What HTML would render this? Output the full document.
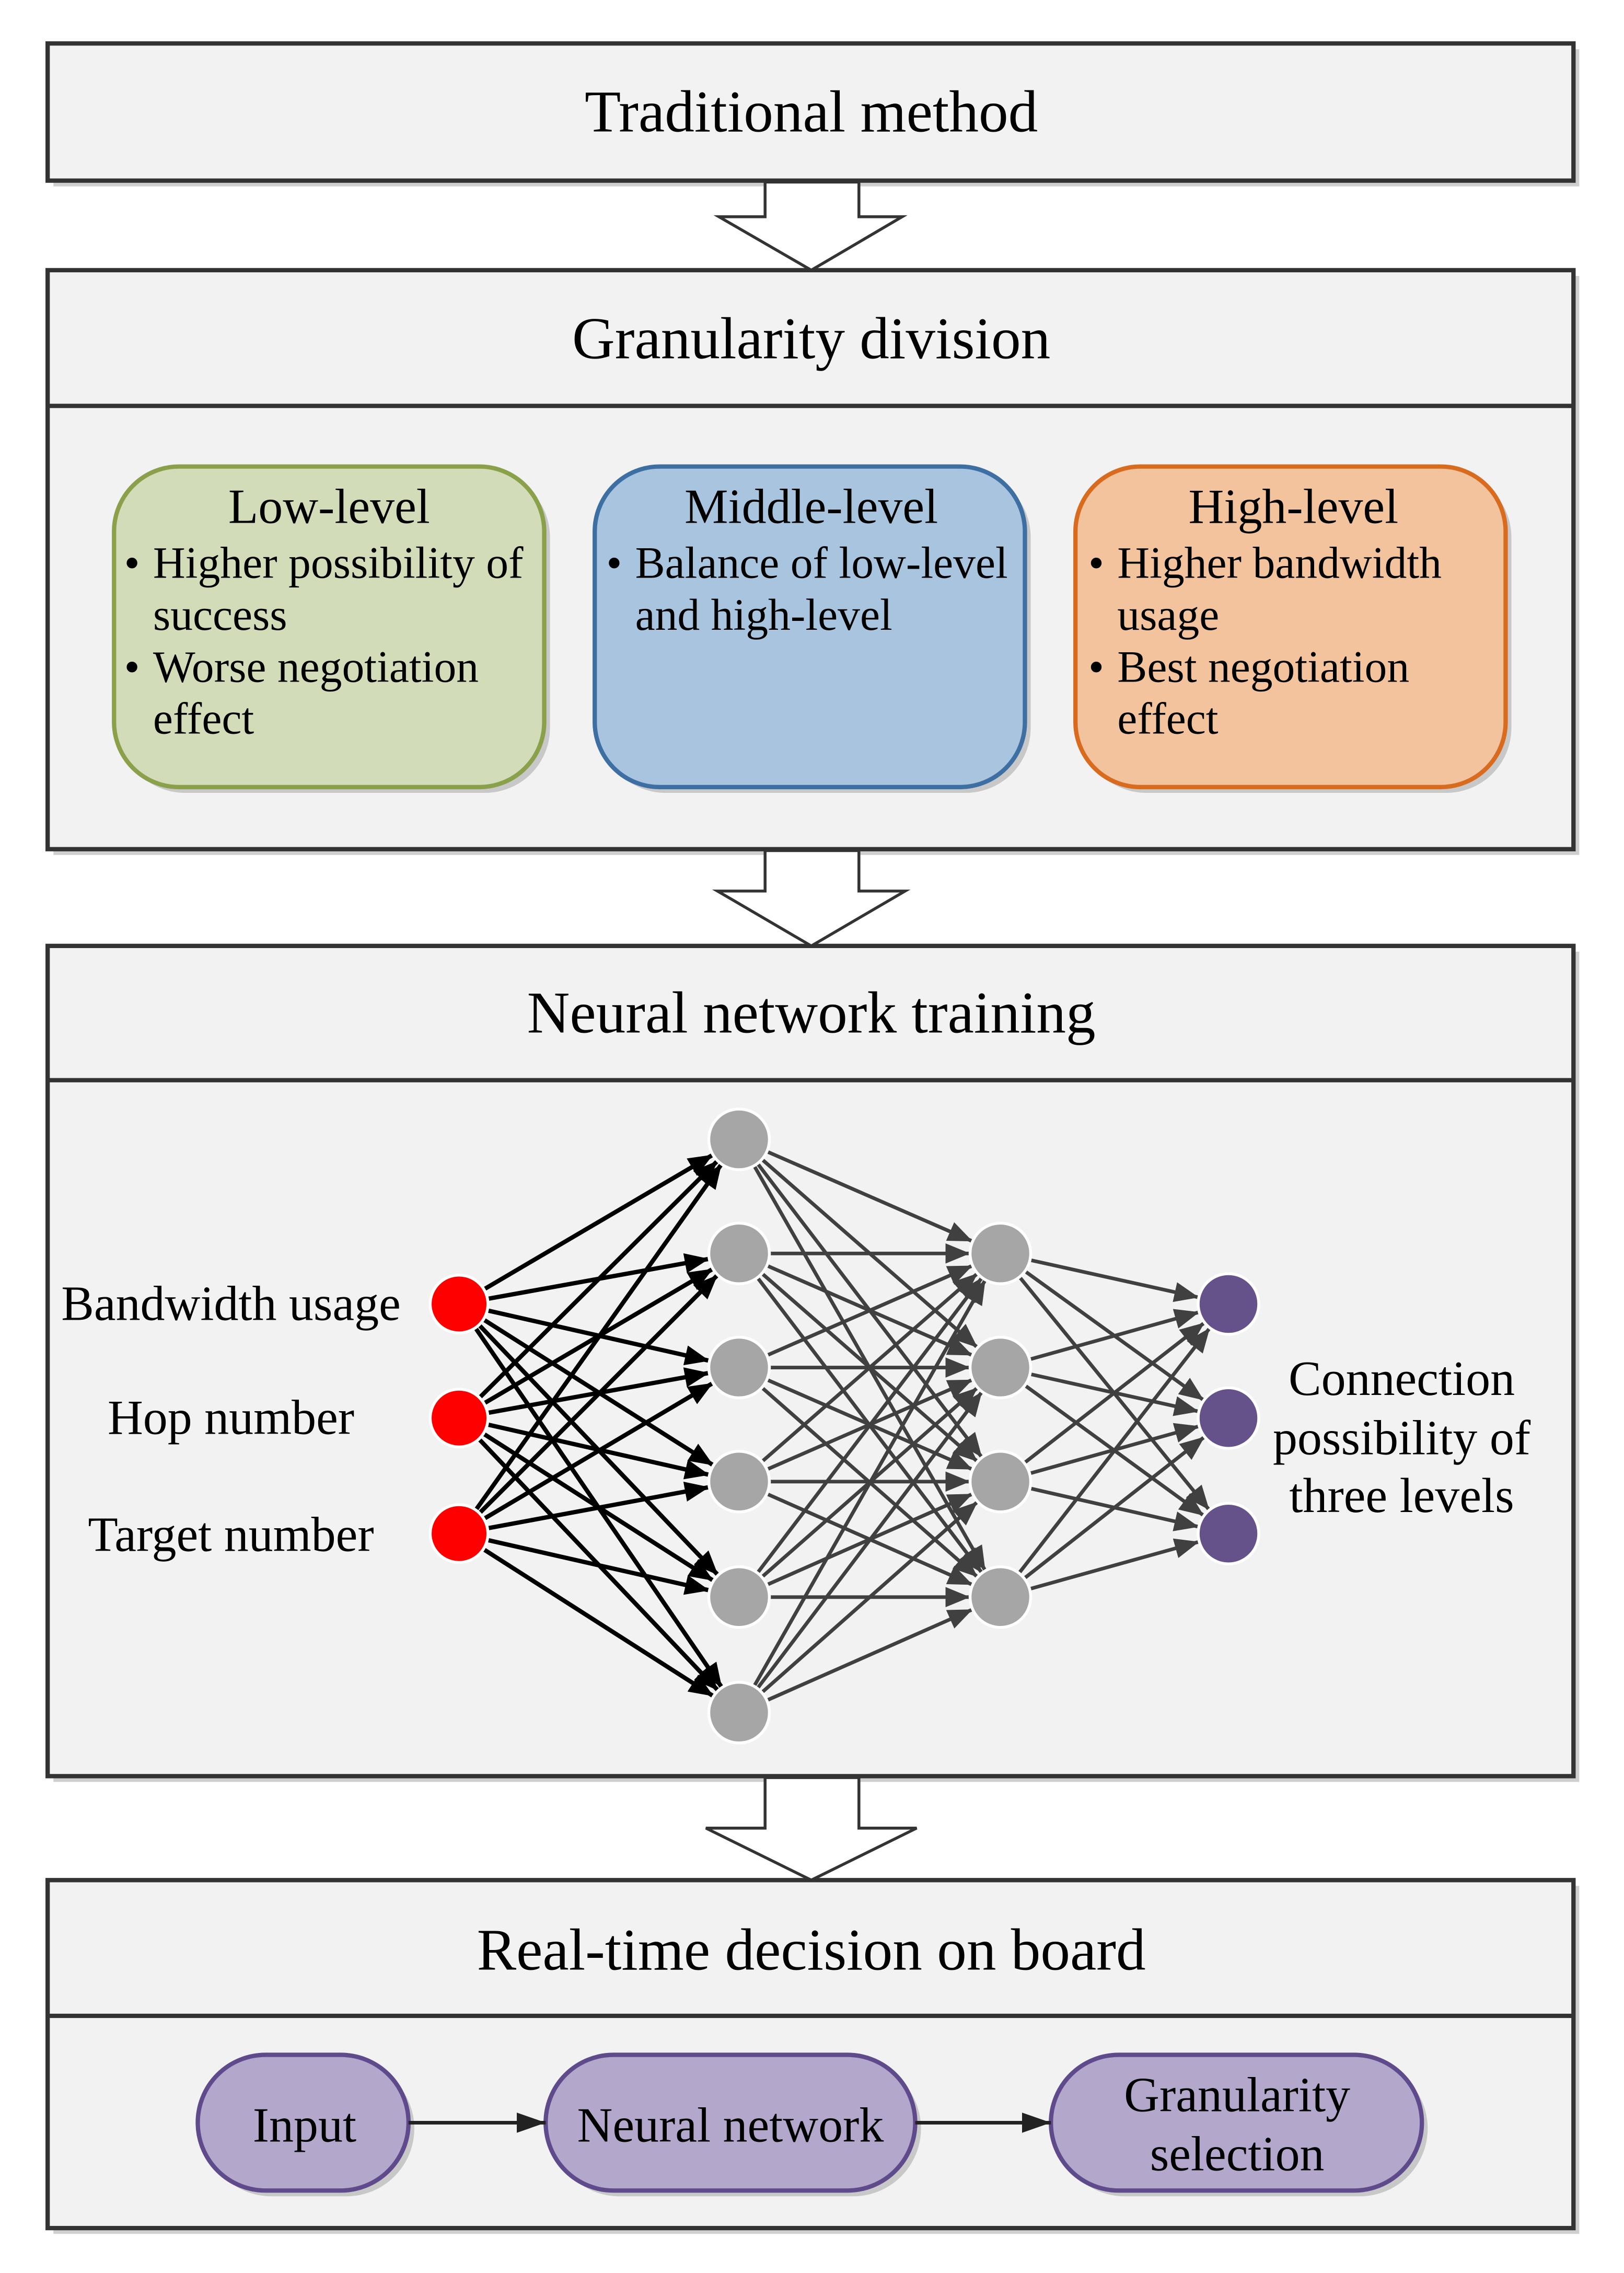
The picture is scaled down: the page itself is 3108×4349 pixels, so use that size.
<!DOCTYPE html>
<html><head><meta charset="utf-8"><style>
html,body{margin:0;padding:0;background:#fff;}
svg{display:block;}
text{font-family:"Liberation Serif",serif;fill:#000;}
</style></head><body>
<svg width="3108" height="4349" viewBox="0 0 1125 1574" xmlns="http://www.w3.org/2000/svg">
<defs>
<marker id="ab" markerUnits="userSpaceOnUse" markerWidth="60" markerHeight="20" viewBox="0 0 60 20" refX="38" refY="7" orient="auto">
<path d="M0,0 L17,7 L0,14 Z" fill="#000"/></marker>
<marker id="ag" markerUnits="userSpaceOnUse" markerWidth="60" markerHeight="20" viewBox="0 0 60 20" refX="38" refY="7" orient="auto">
<path d="M0,0 L17,7 L0,14 Z" fill="#404040"/></marker>
<marker id="ap" markerUnits="userSpaceOnUse" markerWidth="30" markerHeight="20" viewBox="0 0 30 20" refX="20" refY="7" orient="auto">
<path d="M0,0 L20,7 L0,14 Z" fill="#222"/></marker>
</defs>
<rect width="1125" height="1574" fill="#fff"/>

<g fill="#cfcfcf">
<rect x="37" y="34" width="1057" height="95"/>
<rect x="37" y="191" width="1057" height="401"/>
<rect x="37" y="659" width="1057" height="575"/>
<rect x="37" y="1306" width="1057" height="241"/>
</g>
<g fill="#f2f2f2" stroke="#333" stroke-width="3">
<rect x="33" y="30" width="1057" height="95"/>
<rect x="33" y="187" width="1057" height="401"/>
<rect x="33" y="655" width="1057" height="575"/>
<rect x="33" y="1302" width="1057" height="241"/>
</g>
<g stroke="#333" stroke-width="3">
<line x1="33" y1="281" x2="1090" y2="281"/>
<line x1="33" y1="748" x2="1090" y2="748"/>
<line x1="33" y1="1396" x2="1090" y2="1396"/>
</g>

<g fill="#fff" stroke="#333" stroke-width="2">
<path d="M530,126 L595,126 L595,150 L625,150 L562,187 L498,150 L530,150 Z"/>
<path d="M530,589 L595,589 L595,617 L627,617 L562,655 L497,617 L530,617 Z"/>
<path d="M530,1231 L595,1231 L595,1266 L635,1266 L562,1302 L489,1266 L530,1266 Z"/>
</g>

<g font-size="41" text-anchor="middle">
<text x="562" y="91">Traditional method</text>
<text x="562" y="248">Granularity division</text>
<text x="562" y="715">Neural network training</text>
<text x="562" y="1364">Real-time decision on board</text>
</g>

<g fill="#c8c8c8">
<rect x="83" y="327" width="298" height="222" rx="45"/>
<rect x="416" y="327" width="298" height="222" rx="45"/>
<rect x="749" y="327" width="298" height="222" rx="45"/>
</g>
<rect x="79" y="323" width="298" height="222" rx="45" fill="#d3dcb8" stroke="#8aa04a" stroke-width="3"/>
<rect x="412" y="323" width="298" height="222" rx="45" fill="#a8c4de" stroke="#3d6fa3" stroke-width="3"/>
<rect x="745" y="323" width="298" height="222" rx="45" fill="#f2c39c" stroke="#d96b1f" stroke-width="3"/>
<g font-size="34" text-anchor="middle">
<text x="228" y="362">Low-level</text>
<text x="562" y="362">Middle-level</text>
<text x="896" y="362">High-level</text>
</g>
<g font-size="31">
<text x="86" y="400">•</text><text x="106" y="400">Higher possibility of</text>
<text x="106" y="436">success</text>
<text x="86" y="472">•</text><text x="106" y="472">Worse negotiation</text>
<text x="106" y="508">effect</text>
<text x="420" y="400">•</text><text x="440" y="400">Balance of low-level</text>
<text x="440" y="436">and high-level</text>
<text x="754" y="400">•</text><text x="774" y="400">Higher bandwidth</text>
<text x="774" y="436">usage</text>
<text x="754" y="472">•</text><text x="774" y="472">Best negotiation</text>
<text x="774" y="508">effect</text>
</g>

<g stroke="#000" stroke-width="3" marker-end="url(#ab)">
<line x1="318" y1="903" x2="512" y2="789"/><line x1="318" y1="903" x2="512" y2="868"/><line x1="318" y1="903" x2="512" y2="947"/><line x1="318" y1="903" x2="512" y2="1026"/><line x1="318" y1="903" x2="512" y2="1106"/><line x1="318" y1="903" x2="512" y2="1186"/>
<line x1="318" y1="982" x2="512" y2="789"/><line x1="318" y1="982" x2="512" y2="868"/><line x1="318" y1="982" x2="512" y2="947"/><line x1="318" y1="982" x2="512" y2="1026"/><line x1="318" y1="982" x2="512" y2="1106"/><line x1="318" y1="982" x2="512" y2="1186"/>
<line x1="318" y1="1062" x2="512" y2="789"/><line x1="318" y1="1062" x2="512" y2="868"/><line x1="318" y1="1062" x2="512" y2="947"/><line x1="318" y1="1062" x2="512" y2="1026"/><line x1="318" y1="1062" x2="512" y2="1106"/><line x1="318" y1="1062" x2="512" y2="1186"/>
</g>
<g stroke="#404040" stroke-width="2.5" marker-end="url(#ag)">
<line x1="512" y1="789" x2="693" y2="868"/><line x1="512" y1="789" x2="693" y2="947"/><line x1="512" y1="789" x2="693" y2="1026"/><line x1="512" y1="789" x2="693" y2="1106"/>
<line x1="512" y1="868" x2="693" y2="868"/><line x1="512" y1="868" x2="693" y2="947"/><line x1="512" y1="868" x2="693" y2="1026"/><line x1="512" y1="868" x2="693" y2="1106"/>
<line x1="512" y1="947" x2="693" y2="868"/><line x1="512" y1="947" x2="693" y2="947"/><line x1="512" y1="947" x2="693" y2="1026"/><line x1="512" y1="947" x2="693" y2="1106"/>
<line x1="512" y1="1026" x2="693" y2="868"/><line x1="512" y1="1026" x2="693" y2="947"/><line x1="512" y1="1026" x2="693" y2="1026"/><line x1="512" y1="1026" x2="693" y2="1106"/>
<line x1="512" y1="1106" x2="693" y2="868"/><line x1="512" y1="1106" x2="693" y2="947"/><line x1="512" y1="1106" x2="693" y2="1026"/><line x1="512" y1="1106" x2="693" y2="1106"/>
<line x1="512" y1="1186" x2="693" y2="868"/><line x1="512" y1="1186" x2="693" y2="947"/><line x1="512" y1="1186" x2="693" y2="1026"/><line x1="512" y1="1186" x2="693" y2="1106"/>
<line x1="693" y1="868" x2="851" y2="903"/><line x1="693" y1="868" x2="851" y2="982"/><line x1="693" y1="868" x2="851" y2="1062"/>
<line x1="693" y1="947" x2="851" y2="903"/><line x1="693" y1="947" x2="851" y2="982"/><line x1="693" y1="947" x2="851" y2="1062"/>
<line x1="693" y1="1026" x2="851" y2="903"/><line x1="693" y1="1026" x2="851" y2="982"/><line x1="693" y1="1026" x2="851" y2="1062"/>
<line x1="693" y1="1106" x2="851" y2="903"/><line x1="693" y1="1106" x2="851" y2="982"/><line x1="693" y1="1106" x2="851" y2="1062"/>
</g>
<g stroke="#fff" stroke-width="2">
<g fill="#ff0000"><circle cx="318" cy="903" r="20"/><circle cx="318" cy="982" r="20"/><circle cx="318" cy="1062" r="20"/></g>
<g fill="#a6a6a6"><circle cx="512" cy="789" r="21"/><circle cx="512" cy="868" r="21"/><circle cx="512" cy="947" r="21"/><circle cx="512" cy="1026" r="21"/><circle cx="512" cy="1106" r="21"/><circle cx="512" cy="1186" r="21"/>
<circle cx="693" cy="868" r="21"/><circle cx="693" cy="947" r="21"/><circle cx="693" cy="1026" r="21"/><circle cx="693" cy="1106" r="21"/></g>
<g fill="#65528a"><circle cx="851" cy="903" r="21"/><circle cx="851" cy="982" r="21"/><circle cx="851" cy="1062" r="21"/></g>
</g>
<g font-size="34" text-anchor="middle">
<text x="160" y="914">Bandwidth usage</text>
<text x="160" y="993">Hop number</text>
<text x="160" y="1074">Target number</text>
<text x="971" y="966">Connection</text>
<text x="971" y="1007">possibility of</text>
<text x="971" y="1047">three levels</text>
</g>

<g fill="#c8c8c8">
<rect x="141" y="1427" width="146" height="94" rx="47"/>
<rect x="382" y="1427" width="256" height="94" rx="47"/>
<rect x="732" y="1427" width="257" height="94" rx="47"/>
</g>
<g fill="#b3a7cc" stroke="#5f4b8b" stroke-width="3">
<rect x="137" y="1423" width="146" height="94" rx="47"/>
<rect x="378" y="1423" width="256" height="94" rx="47"/>
<rect x="728" y="1423" width="257" height="94" rx="47"/>
</g>
<g stroke="#222" stroke-width="2.5" marker-end="url(#ap)">
<line x1="283" y1="1470" x2="378" y2="1470"/>
<line x1="634" y1="1470" x2="728" y2="1470"/>
</g>
<g font-size="34" text-anchor="middle">
<text x="211" y="1483">Input</text>
<text x="506" y="1483">Neural network</text>
<text x="857" y="1462">Granularity</text>
<text x="857" y="1503">selection</text>
</g>
</svg>
</body></html>
